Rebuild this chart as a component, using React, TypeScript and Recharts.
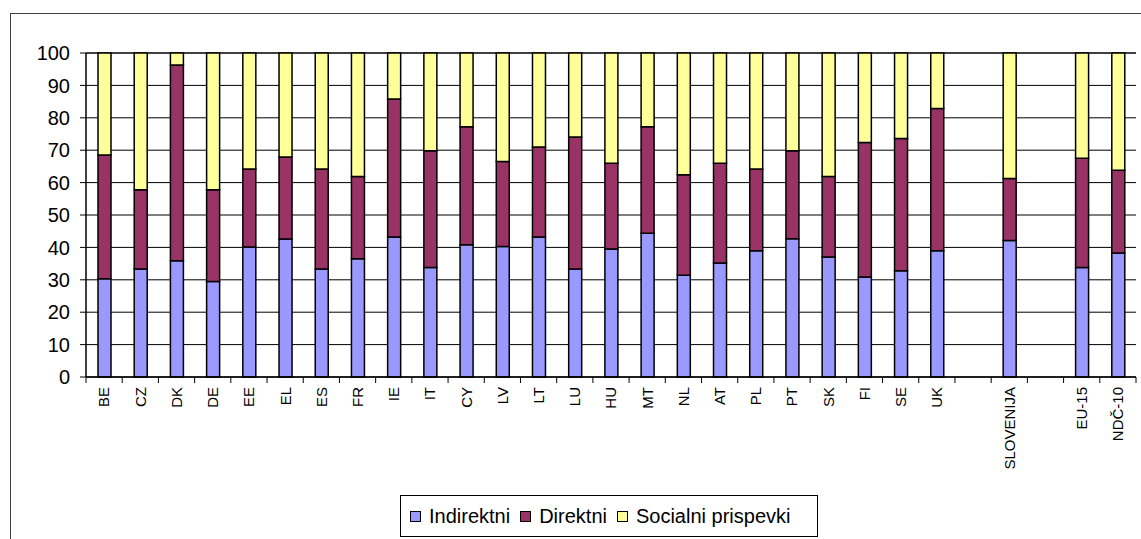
import { BarChart, Bar, XAxis, YAxis, CartesianGrid, Legend } from "recharts";

// Country codes along the x axis; empty strings leave a gap between groups
const categories = [
  "BE", "CZ", "DK", "DE", "EE", "EL", "ES", "FR", "IE", "IT", "CY", "LV",
  "LT", "LU", "HU", "MT", "NL", "AT", "PL", "PT", "SK", "FI", "SE", "UK",
  "", "SLOVENIJA", "", "EU-15", "NDČ-10",
];

// shares of total tax revenue, %
const indirektni = [
  30.3, 33.3, 35.9, 29.5, 40.1, 42.6, 33.3, 36.5, 43.2, 33.8, 40.8, 40.3,
  43.2, 33.3, 39.5, 44.4, 31.4, 35.2, 39.0, 42.7, 37.0, 30.9, 32.8, 39.0,
  null, 42.1, null, 33.8, 38.3,
];
const direktni = [
  38.2, 24.5, 60.4, 28.3, 24.1, 25.3, 30.9, 25.4, 42.6, 36.0, 36.4, 26.2,
  27.8, 40.8, 26.5, 32.8, 31.0, 30.8, 25.2, 27.1, 24.9, 41.5, 40.8, 43.9,
  null, 19.2, null, 33.7, 25.5,
];
const socialni = [
  31.5, 42.2, 3.7, 42.2, 35.8, 32.1, 35.8, 38.1, 14.2, 30.2, 22.8, 33.5,
  29.0, 25.9, 34.0, 22.8, 37.6, 34.0, 35.8, 30.2, 38.1, 27.6, 26.4, 17.1,
  null, 38.7, null, 32.5, 36.2,
];

const yTicks = [0, 10, 20, 30, 40, 50, 60, 70, 80, 90, 100];

const series = [
  { key: "indirektni", name: "Indirektni", color: "#9999FF" },
  { key: "direktni", name: "Direktni", color: "#993366" },
  { key: "socialni", name: "Socialni prispevki", color: "#FFFF99" },
];

const data = categories.map((name, i) => ({
  name,
  indirektni: indirektni[i],
  direktni: direktni[i],
  socialni: socialni[i],
}));

const FONT = "'Liberation Sans', Arial, sans-serif";

// rotated label plus the short tick marks on the slot boundaries
function CategoryTick(props: any) {
  const { x, y, payload, index, width } = props;
  const band = width / categories.length;
  const left = x - band / 2;
  const right = x + band / 2;
  return (
    <g>
      <line x1={left} y1={y} x2={left} y2={y + 6} stroke="#000" />
      {index === categories.length - 1 && (
        <line x1={right} y1={y} x2={right} y2={y + 6} stroke="#000" />
      )}
      <text
        x={x}
        y={y + 10}
        dy="0.36em"
        textAnchor="end"
        transform={`rotate(-90, ${x}, ${y + 10})`}
        fontSize={15}
        fontFamily={FONT}
        fill="#000"
      >
        {payload.value}
      </text>
    </g>
  );
}

function LegendBox() {
  return (
    <div
      style={{
        boxSizing: "border-box",
        width: 418,
        height: 42,
        border: "1px solid #000",
        background: "#fff",
        display: "flex",
        alignItems: "center",
        paddingLeft: 9,
        fontFamily: FONT,
        fontSize: 20,
        color: "#000",
      }}
    >
      {series.map((s) => (
        <span key={s.key} style={{ display: "flex", alignItems: "center", marginRight: 10 }}>
          <span
            style={{
              display: "inline-block",
              boxSizing: "border-box",
              width: 11,
              height: 11,
              background: s.color,
              border: "1.5px solid #000",
              marginRight: 8,
            }}
          />
          {s.name}
        </span>
      ))}
    </div>
  );
}

export default function App() {
  return (
    <div
      style={{
        position: "absolute",
        left: 0,
        top: 0,
        width: 1141,
        height: 539,
        overflow: "hidden",
        background: "#fff",
      }}
    >
      <div
        style={{
          position: "absolute",
          left: 10,
          top: 13,
          width: 1200,
          height: 600,
          border: "1.5px solid #404040",
        }}
      />
      <div style={{ position: "absolute", left: 0, top: 0 }}>
        <BarChart
          width={1141}
          height={539}
          data={data}
          margin={{ top: 53, right: 5, left: 10, bottom: 62 }}
          barCategoryGap={0}
        >
          <CartesianGrid vertical={false} stroke="#000" strokeWidth={1} yAxisId="v" xAxisId="cat" />
          <XAxis
            xAxisId="cat"
            dataKey="name"
            interval={0}
            height={100}
            axisLine={{ stroke: "#000", strokeWidth: 1.5 }}
            tickLine={false}
            tickSize={0}
            tickMargin={0}
            tick={<CategoryTick />}
          />
          <YAxis
            yAxisId="v"
            domain={[0, 100]}
            ticks={yTicks}
            width={76}
            axisLine={{ stroke: "#000", strokeWidth: 1.5 }}
            tickLine={{ stroke: "#000" }}
            tickSize={6}
            tickMargin={10}
            tick={{ fontSize: 20, fontFamily: FONT, fill: "#000" }}
          />
          <YAxis
            yAxisId="r"
            orientation="right"
            domain={[0, 100]}
            width={0}
            tick={false}
            tickLine={false}
            axisLine={{ stroke: "#000" }}
          />
          <Legend
            verticalAlign="middle"
            align="center"
            layout="horizontal"
            wrapperStyle={{ left: 400, top: 495, width: 418, height: 42 }}
            content={() => <LegendBox />}
          />
          {series.map((s) => (
            <Bar
              key={s.key}
              dataKey={s.key}
              name={s.name}
              stackId="a"
              xAxisId="cat"
              yAxisId="v"
              fill={s.color}
              stroke="#000"
              strokeWidth={1.5}
              barSize={13}
              isAnimationActive={false}
            />
          ))}
        </BarChart>
      </div>
    </div>
  );
}
